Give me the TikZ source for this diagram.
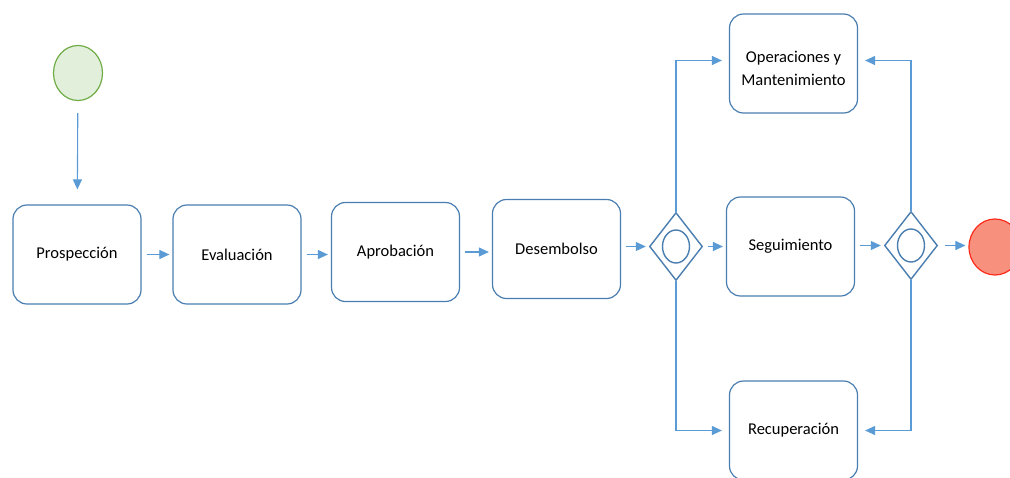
\documentclass[tikz,border=0pt]{standalone}
\usepackage{fontspec}
\setmainfont{Carlito}
\usetikzlibrary{arrows.meta,shapes.geometric}
\definecolor{arrowblue}{HTML}{5B9BD5}
\definecolor{boxblue}{HTML}{4A7EB0}
\definecolor{startfill}{HTML}{E2EFDA}
\definecolor{startdraw}{HTML}{70AD47}
\definecolor{endfill}{HTML}{F8907E}
\definecolor{enddraw}{HTML}{FF2A1A}
\begin{document}
\begin{tikzpicture}[x=1pt,y=-1pt,
 task/.style={draw=boxblue, line width=1.2pt, rounded corners=14pt, minimum width=128pt, minimum height=99pt, fill=white, align=center, font=\fontsize{16.5}{23}\selectfont, inner sep=0pt},
 gate/.style={diamond, draw=boxblue, line width=1.4pt, minimum width=53pt, minimum height=68pt, inner sep=0pt},
 ring/.style={ellipse, draw=boxblue, line width=1.4pt, minimum width=27pt, minimum height=33pt, inner sep=0pt},
 arr/.style={draw=arrowblue, line width=1.1pt, -{Triangle[length=10pt,width=9pt]}, shorten <=5pt, shorten >=3pt},
 branch/.style={arr, shorten <=0pt, shorten >=7pt}]
\useasboundingbox (0,0) rectangle (1010,477);
\clip (0,0) rectangle (1010,477);
\fill[white] (0,0) rectangle (1010,477);

\node[ellipse, draw=startdraw, fill=startfill, line width=1.2pt, minimum width=49pt, minimum height=55pt, inner sep=0pt] (start) at (78,73) {};
\node[task] (prosp) at (77,254.5) {Prospección};
\node[task] (eval) at (237,254.5) {Evaluación};
\node[task] (aprob) at (395.5,252) {Aprobación};
\node[task] (desem) at (556.5,249) {Desembolso};
\node[gate] (gw1) at (676,246.5) {};
\node[ring] (gw1r) at (676,246.5) {};
\node[task] (seg) at (790.5,246.5) {Seguimiento};
\node[gate] (gw2) at (911,245.5) {};
\node[ring] (gw2r) at (911,245.5) {};
\node[ellipse, draw=enddraw, fill=endfill, line width=1.2pt, minimum width=52pt, minimum height=56pt, inner sep=0pt] (fin) at (995,247) {};
\node[task] (ops) at (793.5,63.5) {\rule{0pt}{22pt}Operaciones y\\Mantenimiento};
\node[task] (recu) at (793.5,430.5) {Recuperación};

\draw[arr, shorten <=12pt, shorten >=15pt] (start) -- (prosp);
\draw[arr] (prosp.east) -- (eval.west);
\draw[arr] (eval.east) -- (eval.east -| aprob.west);
\draw[arr] (aprob.east) -- (aprob.east -| desem.west);
\draw[arr] (desem.east |- gw1.west) -- (gw1.west);
\draw[arr] (gw1.east) -- (gw1.east -| seg.west);
\draw[arr] (seg.east |- gw2.west) -- (gw2.west);
\draw[arr, shorten <=7pt] (gw2.east) -- (gw2.east -| fin.west);
\draw[branch] (gw1.north) |- ([yshift=3pt]ops.west);
\draw[branch] (gw1.south) |- (recu.west);
\draw[branch] (gw2.north) |- ([yshift=3pt]ops.east);
\draw[branch] (gw2.south) |- (recu.east);
\end{tikzpicture}
\end{document}
